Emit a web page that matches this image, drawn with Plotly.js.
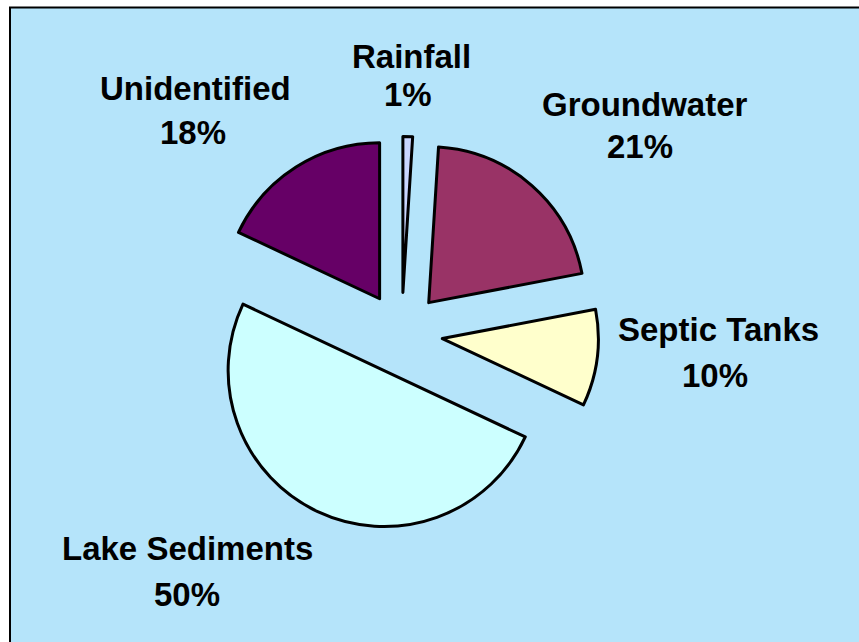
<!DOCTYPE html>
<html>
<head>
<meta charset="utf-8">
<script src="https://cdn.plot.ly/plotly-3.0.1.min.js"></script>
<style>html,body{margin:0;padding:0;background:#fff;}#chart{width:859px;height:642px;}</style>
</head>
<body>
<div id="chart"></div>
<script>
// ---- data ----
const categories = ['Rainfall', 'Groundwater', 'Septic Tanks', 'Lake Sediments', 'Unidentified'];
const shares = [1, 21, 10, 50, 18];

// ---- styling / layout (not data) ----
const sliceColors = ['#c9d6ff', '#993366', '#ffffcc', '#ccffff', '#660066'];
const W = 859, H = 642;
// label anchor positions in pixels: [nameX, nameY, pctX, pctY]
const labelPos = [
  [411, 56, 408, 95],
  [645, 105, 640, 147],
  [718, 329, 715, 376],
  [187, 548, 187, 594],
  [195, 88, 193, 132]
];
const labelFont = {family: 'Liberation Sans, Arial, sans-serif', size: 33, color: '#000', weight: 'bold'};

const annotations = [];
categories.forEach((c, i) => {
  const p = labelPos[i];
  annotations.push({text: '<b>' + c + '</b>', x: p[0] / W, y: 1 - p[1] / H, xref: 'paper', yref: 'paper',
    xanchor: 'center', yanchor: 'middle', showarrow: false, font: labelFont});
  annotations.push({text: '<b>' + shares[i] + '%</b>', x: p[2] / W, y: 1 - p[3] / H, xref: 'paper', yref: 'paper',
    xanchor: 'center', yanchor: 'middle', showarrow: false, font: labelFont});
});

// pie geometry: centre ~ (401.6, 333.4) px, radius ~156 px, pull ~0.263
const pull = 0.263;
const cx = 401.6, cy = 333.4, R = 156;
const half = R * (1 + pull);

const trace = {
  type: 'pie',
  labels: categories,
  values: shares,
  sort: false,
  direction: 'clockwise',
  rotation: 0,
  pull: categories.map(() => pull),
  marker: {colors: sliceColors, line: {color: '#000', width: 3}},
  textinfo: 'none',
  hoverinfo: 'label+percent',
  showlegend: false,
  domain: {x: [(cx - half) / W, (cx + half) / W], y: [1 - (cy + half) / H, 1 - (cy - half) / H]}
};

const layout = {
  width: W, height: H,
  margin: {l: 0, r: 0, t: 0, b: 0},
  paper_bgcolor: '#ffffff',
  showlegend: false,
  shapes: [{type: 'rect', xref: 'paper', yref: 'paper', layer: 'below',
    x0: 10 / W, x1: 1.02, y0: -0.02, y1: 1 - 7.5 / H,
    fillcolor: '#b5e4fa', line: {color: '#000', width: 2}}],
  annotations: annotations
};

Plotly.newPlot('chart', [trace], layout, {displayModeBar: false, staticPlot: true});
</script>
</body>
</html>
